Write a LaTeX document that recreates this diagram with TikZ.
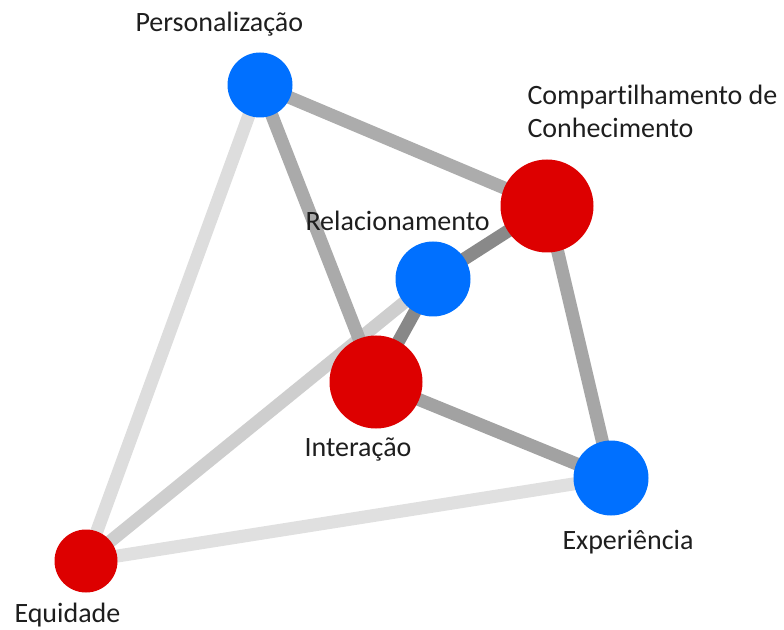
\documentclass[tikz,border=0pt]{standalone}
\usepackage{fontspec}
\setmainfont{Carlito}[Ligatures={NoCommon}]
\usetikzlibrary{backgrounds}
\definecolor{nodeblue}{RGB}{0,112,255}
\definecolor{nodered}{RGB}{221,0,0}
\definecolor{labelink}{RGB}{30,30,30}
\tikzset{every picture/.style={line width=0.75pt}}
\tikzset{
  bluenode/.style={circle,fill=nodeblue,draw=none,inner sep=0pt},
  rednode/.style={circle,fill=nodered,draw=none,inner sep=0pt},
  tie/.style={line width=9.75pt},
  label text/.style={anchor=base west,inner sep=0pt,text=labelink,font=\fontsize{21}{24.75}\selectfont}
}
\begin{document}
\begin{tikzpicture}[x=0.75pt,y=0.75pt,yscale=-1,xscale=1]
\path (0,0) rectangle (784,630); %set diagram size 784 x 630

%Shape: Circle nodes
\path (260,85) node [bluenode,minimum size=48.75pt] (pers) {};
\path (547,206) node [rednode,minimum size=69.75pt] (comp) {};
\path (433,279) node [bluenode,minimum size=56.25pt] (rel) {};
\path (376,382) node [rednode,minimum size=69.75pt] (inter) {};
\path (611,478) node [bluenode,minimum size=56.25pt] (exp) {};
\path (86,561) node [rednode,minimum size=47.25pt] (equi) {};

%Straight Lines
\begin{scope}[on background layer]
\draw [tie,color={rgb, 255:red, 221; green, 221; blue, 221 }] (pers.center) -- (equi.center);
\draw [tie,color={rgb, 255:red, 224; green, 224; blue, 224 }] (exp.center) -- (equi.center);
\draw [tie,color={rgb, 255:red, 206; green, 206; blue, 206 }] (rel.center) -- (equi.center);
\draw [tie,color={rgb, 255:red, 170; green, 170; blue, 170 }] (pers.center) -- (inter.center);
\draw [tie,color={rgb, 255:red, 172; green, 172; blue, 172 }] (pers.center) -- (comp.center);
\draw [tie,color={rgb, 255:red, 166; green, 166; blue, 166 }] (comp.center) -- (exp.center);
\draw [tie,color={rgb, 255:red, 162; green, 162; blue, 162 }] (inter.center) -- (exp.center);
\draw [tie,color={rgb, 255:red, 137; green, 137; blue, 137 }] (comp.center) -- (rel.center);
\draw [tie,color={rgb, 255:red, 136; green, 136; blue, 136 }] (rel.center) -- (inter.center);
\end{scope}

% Text Node
\draw (135,32) node [label text] (perslabel) {Personalização};
% Text Node
\draw (527,138) node [label text,align=left] (complabel) {Compartilhamento de\\Conhecimento};
% Text Node
\draw (305,231) node [label text] (rellabel) {Relacionamento};
% Text Node
\draw (304,456) node [label text] (interlabel) {Interação};
% Text Node
\draw (562,549) node [label text] (explabel) {Experiência};
% Text Node
\draw (14,622) node [label text] (equilabel) {Equidade};
\end{tikzpicture}
\end{document}
